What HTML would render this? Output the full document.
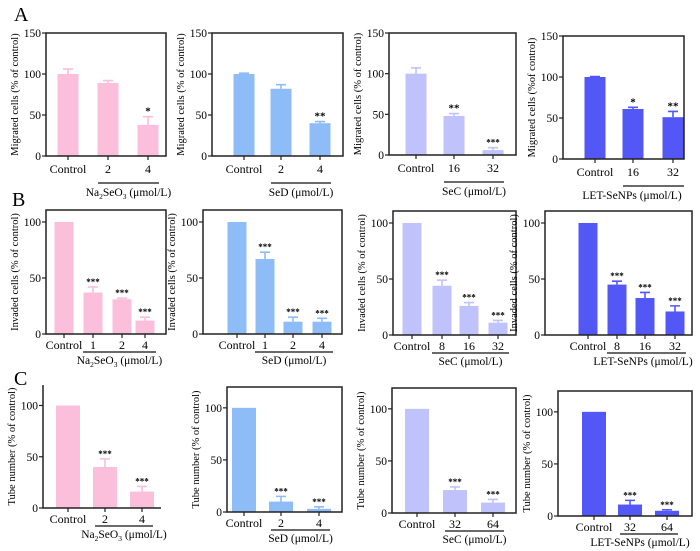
<!DOCTYPE html>
<html><head><meta charset="utf-8">
<style>
html,body{margin:0;padding:0;background:#fff;}
svg{display:block;font-family:"Liberation Serif",serif;}
</style></head>
<body>
<svg id="fig" width="700" height="551" viewBox="0 0 700 551" xmlns="http://www.w3.org/2000/svg">
<text x="14" y="21" font-size="20">A</text>
<text x="12" y="206" font-size="20">B</text>
<text x="14" y="385" font-size="20">C</text>
</svg>
<script>
// ---- data ----
const a1Categories=["Control","2","4"];
const a1Values=[100,89,38];
const a1Errors=[6,3,10];
const a1Sig=["","","*"];
const a2Categories=["Control","2","4"];
const a2Values=[100,82,40];
const a2Errors=[1,5,2];
const a2Sig=["","","**"];
const a3Categories=["Control","16","32"];
const a3Values=[100,48,6];
const a3Errors=[7,3,3];
const a3Sig=["","**","***"];
const a4Categories=["Control","16","32"];
const a4Values=[100,61,51];
const a4Errors=[0.5,2,7];
const a4Sig=["","*","**"];
const b1Categories=["Control","1","2","4"];
const b1Values=[100,37,31,12];
const b1Errors=[0,5,1,3];
const b1Sig=["","***","***","***"];
const b2Categories=["Control","1","2","4"];
const b2Values=[100,67,11,11];
const b2Errors=[0,6,4,3];
const b2Sig=["","***","***","***"];
const b3Categories=["Control","8","16","32"];
const b3Values=[100,44,26,11];
const b3Errors=[0,5,3,2];
const b3Sig=["","***","***","***"];
const b4Categories=["Control","8","16","32"];
const b4Values=[100,45,33,21];
const b4Errors=[0,3,5,5];
const b4Sig=["","***","***","***"];
const c1Categories=["Control","2","4"];
const c1Values=[100,40,16];
const c1Errors=[0,8,5];
const c1Sig=["","***","***"];
const c2Categories=["Control","2","4"];
const c2Values=[100,10,3];
const c2Errors=[0,5,2];
const c2Sig=["","***","***"];
const c3Categories=["Control","32","64"];
const c3Values=[100,22,10];
const c3Errors=[0,3,3];
const c3Sig=["","***","***"];
const c4Categories=["Control","32","64"];
const c4Values=[100,11,5];
const c4Errors=[0,4,1];
const c4Sig=["","***","***"];
const ticksA=[0,50,100,150];
const ticksBC=[0,50,100];

const NS="http://www.w3.org/2000/svg";
const svg=document.getElementById('fig');
function mk(tag,attrs,parent){const e=document.createElementNS(NS,tag);for(const k in attrs)e.setAttribute(k,attrs[k]);(parent||svg).appendChild(e);return e;}

const PINK="#fbbedb",SKY="#8dbcf6",LAV="#c0c2fb",VIO="#5357f6";
const NA='Na<tspan font-size="7.5" dy="3">2</tspan><tspan dy="-3">SeO</tspan><tspan font-size="7.5" dy="3">3</tspan><tspan dy="-3"> (μmol/L)</tspan>';
const rowA={cat:17,ul:27,lab:13}, rowBC={cat:15,ul:18,lab:12};
const panels=[
 {id:"a1",l:46,r:166,t:33,b:156,max:150,ticks:ticksA,cx:[68,108,148],w:21,cats:a1Categories,v:a1Values,e:a1Errors,s:a1Sig,col:PINK,yt:"Migrated cells (% of control)",unit:NA,box:true,row:rowA},
 {id:"a2",l:212,r:343,t:33,b:156,max:150,ticks:ticksA,cx:[244,281,320],w:21,cats:a2Categories,v:a2Values,e:a2Errors,s:a2Sig,col:SKY,yt:"Migrated cells (% of control)",unit:"SeD (μmol/L)",box:true,row:rowA},
 {id:"a3",l:389,r:516,t:33,b:155,max:150,ticks:ticksA,cx:[416,454,493],w:21,cats:a3Categories,v:a3Values,e:a3Errors,s:a3Sig,col:LAV,yt:"Migrated cells (% of control)",unit:"SeC (μmol/L)",box:true,row:rowA},
 {id:"a4",l:563,r:684,t:36,b:159,max:150,ticks:ticksA,cx:[595,633,673],w:21,cats:a4Categories,v:a4Values,e:a4Errors,s:a4Sig,col:VIO,yt:"Migrated cells (%of control)",unit:"LET-SeNPs (μmol/L)",box:true,row:rowA,ux:632},
 {id:"b1",l:46,r:166,t:210,b:334,max:110.7,ticks:ticksBC,cx:[64,93,122,145],w:19,cats:b1Categories,v:b1Values,e:b1Errors,s:b1Sig,col:PINK,yt:"Invaded cells (% of control)",unit:NA,box:true,row:rowBC},
 {id:"b2",l:203,r:342,t:210,b:334,max:110.7,ticks:ticksBC,cx:[237,265,293,322],w:19,cats:b2Categories,v:b2Values,e:b2Errors,s:b2Sig,col:SKY,yt:"Invaded cells (% of control)",unit:"SeD (μmol/L)",box:true,row:rowBC},
 {id:"b3",l:393,r:516,t:211,b:335,max:110.7,ticks:ticksBC,cx:[412,442,469,498],w:19,cats:b3Categories,v:b3Values,e:b3Errors,s:b3Sig,col:LAV,yt:"Invaded cells (% of control)",unit:"SeC (μmol/L)",box:true,row:rowBC},
 {id:"b4",l:545,r:692,t:211,b:335,max:110.7,ticks:ticksBC,cx:[588,617,645,675],w:19,cats:b4Categories,v:b4Values,e:b4Errors,s:b4Sig,col:VIO,yt:"Invaded cells (% of control)",unit:"LET-SeNPs (μmol/L)",box:true,row:rowBC,ux:643},
 {id:"c1",l:43,r:161,t:385,b:508,max:120,ticks:ticksBC,cx:[68,105,142],w:24,cats:c1Categories,v:c1Values,e:c1Errors,s:c1Sig,col:PINK,yt:"Tube number (% of control)",unit:NA,box:false,row:rowBC},
 {id:"c2",l:227,r:342,t:387,b:512,max:120,ticks:ticksBC,cx:[244,281,319],w:24,cats:c2Categories,v:c2Values,e:c2Errors,s:c2Sig,col:SKY,yt:"Tube number (% of control)",unit:"SeD (μmol/L)",box:true,row:rowBC},
 {id:"c3",l:392,r:516,t:388,b:513,max:120,ticks:ticksBC,cx:[417,455,493],w:24,cats:c3Categories,v:c3Values,e:c3Errors,s:c3Sig,col:LAV,yt:"Tube number (% of control)",unit:"SeC (μmol/L)",box:true,row:rowBC},
 {id:"c4",l:558,r:692,t:391,b:516,max:120,ticks:ticksBC,cx:[594,630,667],w:24,cats:c4Categories,v:c4Values,e:c4Errors,s:c4Sig,col:VIO,yt:"Tube number (% of control)",unit:"LET-SeNPs (μmol/L)",box:true,row:rowBC,ux:640}
];

panels.forEach(p=>{
 const g=mk('g',{});
 
 
 const y=v=>p.b-(v/p.max)*(p.b-p.t);
 p.v.forEach((v,i)=>{
  const x=p.cx[i];
  if(p.e[i]>0){
   const ye=y(v+p.e[i]);
   const el=mk('path',{d:`M${x} ${y(v)}V${ye}M${x-5} ${ye}H${x+5}`,stroke:p.col,'stroke-width':1.6,fill:'none'},g);
   
   
  }
  const r=mk('rect',{x:x-p.w/2,y:y(v),width:p.w,height:p.b-y(v),fill:p.col},g);
  
  
  if(p.s[i]){
   const t=mk('text',{x:x,y:y(v+p.e[i])-2,'text-anchor':'middle','font-size':p.s[i].length>2?9:11,'font-weight':'bold'},g);
   t.textContent=p.s[i];
   
   
  }
  const tk=mk('line',{x1:x,x2:x,y1:p.b,y2:p.b+4,stroke:'#222','stroke-width':1.2},g);
  
  
  const cl=mk('text',{x:x,y:p.b+p.row.cat,'text-anchor':'middle','font-size':12},g);
  cl.textContent=p.cats[i];
  
  
 });
 const ax=mk('path',{d:p.box?`M${p.l} ${p.t}H${p.r}V${p.b}H${p.l}Z`:`M${p.l} ${p.t}V${p.b}H${p.r}`,fill:'none',stroke:'#222','stroke-width':1.5},g);
 
 
 p.ticks.forEach(tv=>{
  const tl=mk('line',{x1:p.l-4,x2:p.l,y1:y(tv),y2:y(tv),stroke:'#222','stroke-width':1.2},g);
  
  
  const tt=mk('text',{x:p.l-5,y:y(tv)+4,'text-anchor':'end','font-size':11.5},g);
  tt.textContent=tv;
  
  
 });
 const yc=(p.t+p.b)/2, yx=p.l-28;
 const ytl=mk('text',{x:yx,y:yc,'text-anchor':'middle','font-size':10.5,transform:`rotate(-90 ${yx} ${yc})`},g);
 ytl.textContent=p.yt;
 
 
 const n=p.cx.length, ux1=p.cx[1]-10, ux2=p.cx[n-1]+11, uy=p.b+p.row.ul;
 const ul=mk('line',{x1:ux1,x2:ux2,y1:uy,y2:uy,stroke:'#111','stroke-width':1.2},g);
 
 
 const gl=mk('text',{x:p.ux||(ux1+ux2)/2,y:uy+p.row.lab,'text-anchor':'middle','font-size':11.5},g);
 gl.innerHTML=p.unit;
 
 
});
</script>
</body></html>
